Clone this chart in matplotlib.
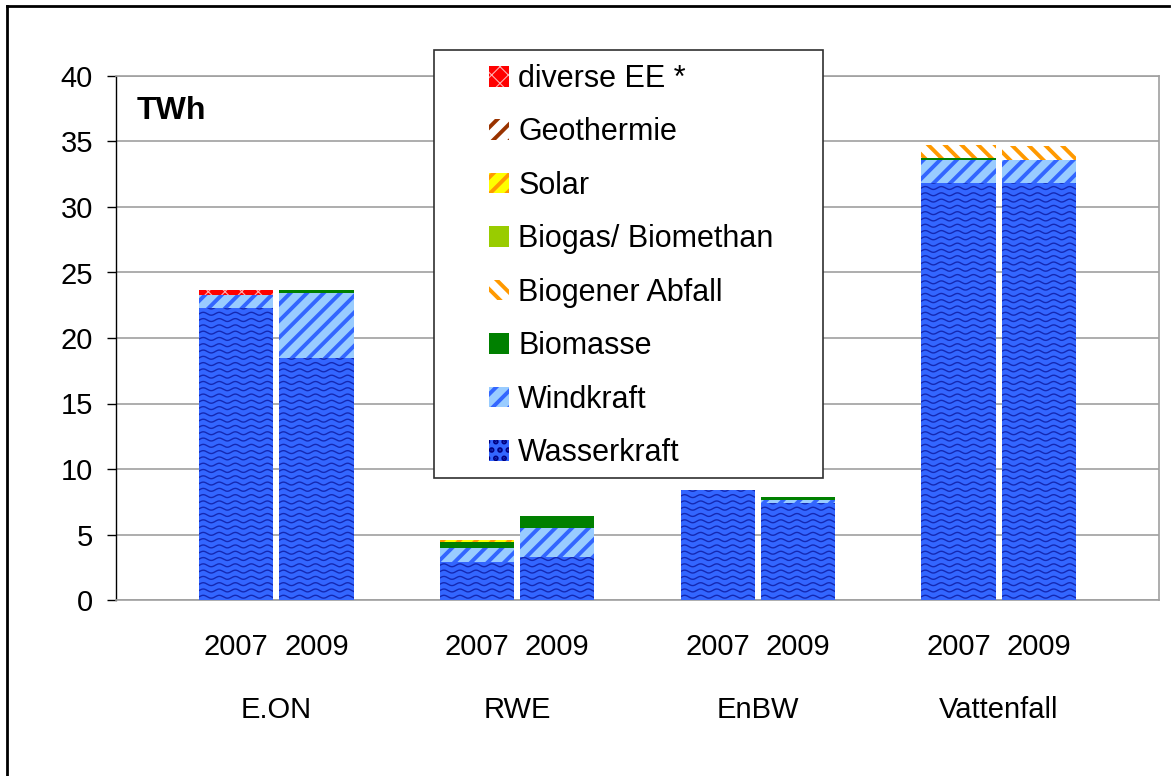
import numpy as np
import matplotlib
matplotlib.use("Agg")
import matplotlib.pyplot as plt
from matplotlib.patches import Rectangle, Patch
from matplotlib.lines import Line2D

plt.rcParams['font.family'] = ['Liberation Sans', 'DejaVu Sans']

companies = ["E.ON", "RWE", "EnBW", "Vattenfall"]
years = ["2007", "2009"]

# order of bars: E.ON 07, E.ON 09, RWE 07, RWE 09, EnBW 07, EnBW 09, Vattenfall 07, Vattenfall 09
wasserkraft = [22.3, 18.5, 2.9, 3.3, 8.4, 7.4, 31.8, 31.8]
windkraft = [1.0, 4.9, 1.1, 2.2, 0.0, 0.25, 1.75, 1.75]
biomasse = [0.0, 0.3, 0.4, 0.95, 0.0, 0.2, 0.18, 0.0]
biogener_abfall = [0.0, 0.0, 0.0, 0.0, 0.0, 0.0, 1.0, 1.1]
biogas = [0.0, 0.0, 0.0, 0.0, 0.0, 0.0, 0.0, 0.0]
solar = [0.0, 0.0, 0.15, 0.0, 0.0, 0.0, 0.0, 0.0]
geothermie = [0.0, 0.0, 0.0, 0.0, 0.0, 0.0, 0.0, 0.0]
diverse_ee = [0.35, 0.0, 0.0, 0.0, 0.0, 0.0, 0.0, 0.0]

series = [
    ("Wasserkraft", wasserkraft, "#3366FF", None, None, 0),
    ("Windkraft", windkraft, "#99CCFF", "#3366FF", "//", 2.8),
    ("Biomasse", biomasse, "#008000", None, None, 0),
    ("Biogener Abfall", biogener_abfall, "#FFFFFF", "#FF9900", "\\\\", 2.8),
    ("Biogas/ Biomethan", biogas, "#99CC00", None, None, 0),
    ("Solar", solar, "#FFFF00", "#FF9900", "//", 2.8),
    ("Geothermie", geothermie, "#FFFFFF", "#993300", "//", 2.8),
    ("diverse EE *", diverse_ee, "#FF0000", "#FFB0B0", "xx", 0.8),
]

# 13 slots: blank, 2007, 2009, blank, ...
x = []
for i in range(len(companies)):
    x += [3 * i + 1, 3 * i + 2]
x = np.array(x, dtype=float)
width = 0.925

fig = plt.figure(figsize=(11.72, 7.76), dpi=100)
W, H = 1172, 776
ax = fig.add_axes([116 / W, 1 - 600 / H, 1043 / W, 524 / H])

bottom = np.zeros(len(x))
handles = {}
hatch_lw = {}
for name, vals, fc, hc, hatch, hlw in series:
    vals = np.array(vals)
    hatch_lw[name] = hlw
    if hatch:
        plt.rcParams['hatch.linewidth'] = hlw
        bars = ax.bar(x, vals, width, bottom=bottom, color=fc, edgecolor=hc,
                      hatch=hatch, linewidth=0, zorder=3)
        for p in bars:
            if hasattr(p, "set_hatch_linewidth"):
                p.set_hatch_linewidth(hlw)
    else:
        bars = ax.bar(x, vals, width, bottom=bottom, color=fc, linewidth=0, zorder=3)
    handles[name] = bars
    if name == "Wasserkraft":
        # wave texture inside the water bars
        for p in bars:
            x0, y0 = p.get_x(), p.get_y()
            w, h = p.get_width(), p.get_height()
            xs = np.linspace(x0, x0 + w, 200)
            for yy in np.arange(y0 + 0.25, y0 + h + 0.5, 0.48):
                ln, = ax.plot(xs, yy + 0.11 * np.sin(2 * np.pi * (xs - x0) / 0.2),
                              color="#000080", lw=1.0, alpha=0.6, zorder=4)
                ln.set_clip_path(p)
    bottom += vals

plt.rcParams['hatch.linewidth'] = 2.8

ax.set_xlim(-0.5, 12.5)
ax.set_ylim(0, 40)
ax.set_yticks(range(0, 41, 5))
ax.yaxis.grid(True, color="#A0A0A0", lw=1.2, zorder=0)
ax.set_axisbelow(True)
ax.tick_params(axis="y", labelsize=21, length=6.5, width=1, pad=10, direction="out")
ax.set_xticks(x)
ax.set_xticklabels(years * len(companies), fontsize=21)
ax.tick_params(axis="x", length=0, pad=24)
for s in ["top", "right", "bottom"]:
    ax.spines[s].set_color("#A0A0A0")
    ax.spines[s].set_linewidth(1.2)
ax.spines["left"].set_color("black")
ax.spines["left"].set_linewidth(1)

for i, c in enumerate(companies):
    ax.text(3 * i + 1.5, -8.4, c, ha="center", va="center", fontsize=21)

ax.text(0.02, 0.918, "TWh", transform=ax.transAxes, fontsize=23,
        fontweight="bold", va="baseline")

# legend box
fig.patches.append(Rectangle((434 / W, 1 - 478 / H), (823 - 434) / W, (478 - 50) / H,
                             transform=fig.transFigure, facecolor="white",
                             edgecolor="#303030", lw=1.2, zorder=4))
order = [s[0] for s in series][::-1]
leg_handles = []
for name in order:
    if name == "Wasserkraft":
        leg_handles.append(Patch(facecolor="#3366FF", edgecolor="#000080",
                                 hatch="..", linewidth=0))
    else:
        leg_handles.append(handles[name])
leg = fig.legend(leg_handles, order, loc="upper left",
                 bbox_to_anchor=(489 / W, 1 - 64 / H), frameon=False,
                 fontsize=22, borderpad=0, borderaxespad=0, labelspacing=0.767,
                 handlelength=0.66, handleheight=0.66, handletextpad=0.3)
leg.set_zorder(5)
for name, lh in zip(order, leg.legend_handles):
    if hasattr(lh, "set_hatch_linewidth") and hatch_lw[name]:
        lh.set_hatch_linewidth(hatch_lw[name])

# outer frame (left and top edges visible)
fig.lines.append(Line2D([7 / W, 7 / W], [0, 1 - 6 / H], transform=fig.transFigure,
                        color="black", lw=2))
fig.lines.append(Line2D([7 / W, 1169 / W], [1 - 6 / H, 1 - 6 / H],
                        transform=fig.transFigure, color="black", lw=2))

fig.savefig("out.png", dpi=100)
